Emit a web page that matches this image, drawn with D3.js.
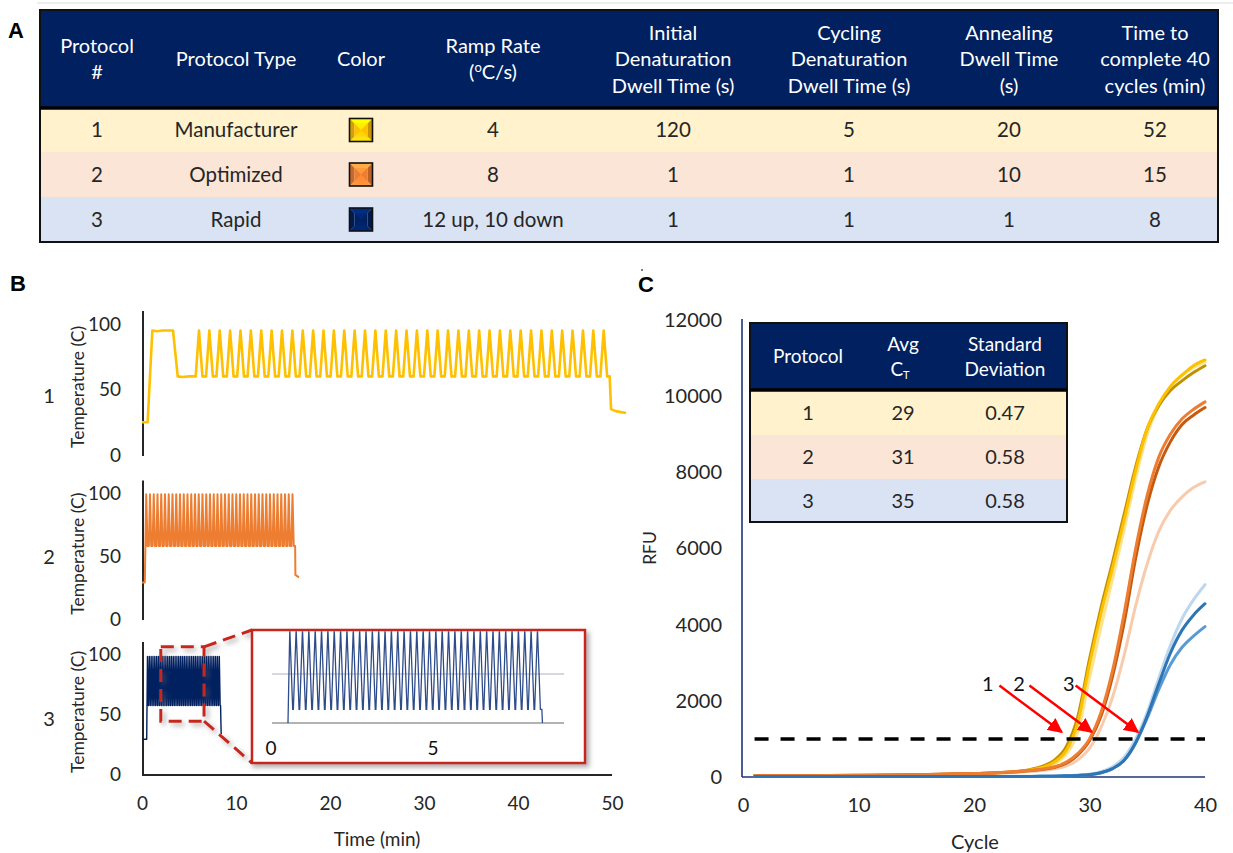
<!DOCTYPE html>
<html>
<head>
<meta charset="utf-8">
<script src="https://cdn.jsdelivr.net/npm/d3@7"></script>
<style>
  body { margin: 0; background: #fff; }
  svg { display: block; font-family: Lato, "Open Sans", sans-serif; }
</style>
</head>
<body>
<svg id="fig" width="1233" height="853"></svg>
<script>
// ---------- Panel A: protocol table ----------
const tableHeaders = [
  ["Protocol", "#"], ["Protocol Type"], ["Color"], ["Ramp Rate", "(\u00B0C/s)"],
  ["Initial", "Denaturation", "Dwell Time (s)"], ["Cycling", "Denaturation", "Dwell Time (s)"],
  ["Annealing", "Dwell Time", "(s)"], ["Time to", "complete 40", "cycles (min)"]
];
const protocolIds = ["1", "2", "3"];
const protocolTypes = ["Manufacturer", "Optimized", "Rapid"];
const rampRates = ["4", "8", "12 up, 10 down"];
const initialDwell = [120, 1, 1];
const cyclingDwell = [5, 1, 1];
const annealDwell = [20, 10, 1];
const totalMinutes = [52, 15, 8];
const protocolColors = ["#FFC000", "#ED7D31", "#002060"];
const rowFills = ["#FFF2CC", "#FBE5D6", "#DAE3F3"];

// ---------- Panel B: thermal traces (time in min, temperature in °C) ----------
const holdBefore = [
  [[0, 25], [0.6, 25], [1.1, 95], [1.6, 94.5], [2.2, 95], [3.3, 95], [3.8, 60], [4.3, 59.5], [5.0, 60], [5.71, 60]],
  [[0, 29], [0.3, 29]],
  [[0, 29], [0.5, 29]]
];
const cycleShape = [
  [[0, 60], [0.35, 95], [0.72, 60]],
  [[0, 99], [0.13, 58], [0.28, 58]],
  [[0, 98], [0.09, 57], [0.11, 57]]
];
const cycleStart = [5.71, 0.45, 0.58];
const cyclePeriod = [1.104, 0.399, 0.196];
const cycleCount = 40;
const holdAfter = [
  [[49.75, 60], [49.9, 35], [50.4, 33.5], [51.5, 32]],
  [[16.32, 35], [16.7, 33]],
  [[8.36, 57], [8.42, 34], [8.5, 34]]
];
const timeTicks = [0, 10, 20, 30, 40, 50];
const tempTicks = [0, 50, 100];
const insetTicks = [0, 5];
const insetGrid = [50, 75];

// ---------- Panel C: amplification curves ----------
const cycles = [1, 5, 10, 15, 20, 22, 24, 25, 26, 27, 28, 29, 30, 31, 32, 33, 34, 35, 36, 37, 38, 39, 40];
const rfuP1a = [30, 35, 40, 55, 90, 110, 155, 205, 290, 450, 800, 1600, 3100, 4450, 5650, 6900, 8150, 9150, 9750, 10150, 10400, 10620, 10800];
const rfuP1b = [30, 35, 40, 55, 85, 105, 145, 190, 260, 400, 700, 1450, 2950, 4300, 5500, 6750, 8050, 9150, 9800, 10250, 10550, 10800, 10950];
const rfuP1c = [30, 35, 40, 55, 80, 100, 135, 175, 235, 350, 600, 1200, 2600, 3950, 5200, 6500, 7850, 9000, 9750, 10250, 10550, 10750, 10900];
const rfuP2a = [30, 35, 45, 60, 90, 110, 150, 175, 210, 270, 390, 620, 1000, 1700, 2800, 4300, 6000, 7400, 8400, 9000, 9400, 9650, 9850];
const rfuP2b = [30, 35, 45, 60, 90, 110, 145, 170, 200, 255, 360, 580, 950, 1600, 2650, 4050, 5750, 7150, 8150, 8800, 9250, 9500, 9700];
const rfuP2c = [30, 35, 45, 60, 85, 100, 130, 150, 175, 215, 290, 450, 750, 1300, 2100, 3200, 4500, 5600, 6450, 7000, 7350, 7600, 7750];
const rfuP3a = [10, 10, 10, 10, 15, 15, 20, 20, 25, 30, 40, 55, 80, 140, 270, 520, 1000, 1700, 2600, 3450, 4150, 4650, 5050];
const rfuP3b = [10, 10, 10, 10, 12, 12, 15, 15, 18, 22, 30, 42, 60, 110, 220, 440, 900, 1600, 2450, 3250, 3850, 4250, 4550];
const rfuP3c = [10, 10, 10, 10, 12, 12, 15, 15, 18, 22, 30, 42, 60, 110, 220, 440, 900, 1550, 2300, 2950, 3400, 3700, 3950];
const curveSeries = [
  { rfu: rfuP1c, color: "#FFE38A" }, { rfu: rfuP1a, color: "#BF9000" }, { rfu: rfuP1b, color: "#FFC000" },
  { rfu: rfuP2c, color: "#F8CBAD" }, { rfu: rfuP2b, color: "#C55A11" }, { rfu: rfuP2a, color: "#ED7D31" },
  { rfu: rfuP3a, color: "#BDD7EE" }, { rfu: rfuP3c, color: "#5B9BD5" }, { rfu: rfuP3b, color: "#2E75B6" }
];
const threshold = 1000;
const rfuTicks = [0, 2000, 4000, 6000, 8000, 10000, 12000];
const cycleTicks = [0, 10, 20, 30, 40];
const ctHeaders = [["Protocol"], ["Avg", "C_T"], ["Standard", "Deviation"]];
const avgCt = [29, 31, 35];
const ctStdDev = ["0.47", "0.58", "0.58"];
// arrows: label position, tail and tip in (cycle, RFU)
const ctArrows = [
  { label: "1", at: [21.2, 2450], from: [22.2, 2400], to: [27.6, 1180] },
  { label: "2", at: [23.9, 2450], from: [24.8, 2400], to: [30.2, 1180] },
  { label: "3", at: [28.2, 2450], from: [28.8, 2400], to: [34.2, 1180] }
];

// ---------- drawing ----------
const svg = d3.select("#fig");
const defs = svg.append("defs");
defs.append("filter").attr("id", "shadow").attr("x", "-10%").attr("y", "-10%").attr("width", "130%").attr("height", "140%")
  .append("feDropShadow").attr("dx", 3).attr("dy", 3).attr("stdDeviation", 2.5)
  .attr("flood-color", "#666").attr("flood-opacity", 0.55);
defs.append("marker").attr("id", "redhead").attr("viewBox", "0 0 10 10").attr("refX", 9).attr("refY", 5)
  .attr("markerWidth", 6).attr("markerHeight", 6).attr("markerUnits", "strokeWidth").attr("orient", "auto")
  .append("path").attr("d", "M0,0 L10,5 L0,10 Z").attr("fill", "#FF0000");

const textCol = "#262626";

svg.append("line").attr("x1", 37).attr("x2", 1233).attr("y1", 3).attr("y2", 3).attr("stroke", "#d9d9d9");

function letter(t, x, y) {
  svg.append("text").attr("x", x).attr("y", y).text(t)
    .attr("font-family", "Arial, 'Liberation Sans', sans-serif").attr("font-weight", "bold")
    .attr("font-size", 22).attr("fill", "#000");
}
letter("A", 8, 38); letter("B", 10, 291); letter("C", 638, 292);
svg.append("circle").attr("cx", 642).attr("cy", 270).attr("r", 1).attr("fill", "#555");

// ---- Panel A ----
(function drawTableA() {
  const x0 = 40, x1 = 1218, yTop = 10, yHead = 108;
  const rowEdges = [108, 152, 197, 242];
  const colX = [97, 236, 361, 493, 673, 849, 1009, 1155];
  const g = svg.append("g");
  g.append("rect").attr("x", x0).attr("y", yTop).attr("width", x1 - x0).attr("height", yHead - yTop).attr("fill", "#002060");
  g.selectAll("rect.row").data(protocolIds).join("rect").attr("class", "row")
    .attr("x", x0).attr("width", x1 - x0)
    .attr("y", (d, i) => rowEdges[i]).attr("height", (d, i) => rowEdges[i + 1] - rowEdges[i])
    .attr("fill", (d, i) => rowFills[i]);

  const lineGap = 26.5, headMid = (yTop + yHead) / 2;
  tableHeaders.forEach((lines, c) => {
    const t = g.append("text").attr("text-anchor", "middle").attr("fill", "#fff").attr("font-size", 20);
    lines.forEach((ln, k) => {
      const y = headMid + (k - (lines.length - 1) / 2) * lineGap + 7;
      if (ln === "(\u00B0C/s)") {
        const ts = t.append("tspan").attr("x", colX[c]).attr("y", y);
        ts.append("tspan").text("(");
        ts.append("tspan").text("o").attr("font-size", 13).attr("dy", -7);
        ts.append("tspan").text("C/s)").attr("dy", 7);
      } else {
        t.append("tspan").attr("x", colX[c]).attr("y", y).text(ln);
      }
    });
  });

  const cells = protocolIds.map((id, i) => [id, protocolTypes[i], null, rampRates[i], initialDwell[i], cyclingDwell[i], annealDwell[i], totalMinutes[i]]);
  cells.forEach((row, i) => {
    const cy = (rowEdges[i] + rowEdges[i + 1]) / 2;
    row.forEach((v, c) => {
      if (v === null) return;
      g.append("text").attr("x", colX[c]).attr("y", cy + 7).attr("text-anchor", "middle")
        .attr("font-size", 20.5).attr("fill", textCol).text(v);
    });
    // bevelled colour swatch
    const s = 23, sx = colX[2] - s / 2, sy = cy - s / 2, inset = 5;
    const base = d3.color(protocolColors[i]);
    const pts = {
      tl: [sx, sy], tr: [sx + s, sy], br: [sx + s, sy + s], bl: [sx, sy + s],
      itl: [sx + inset, sy + inset], itr: [sx + s - inset, sy + inset], ibr: [sx + s - inset, sy + s - inset], ibl: [sx + inset, sy + s - inset]
    };
    const poly = (arr, fill) => g.append("polygon").attr("points", arr.map(p => p.join(",")).join(" ")).attr("fill", fill);
    poly([pts.tl, pts.tr, pts.itr, pts.itl], base.brighter(0.9));
    poly([pts.bl, pts.br, pts.ibr, pts.ibl], base.brighter(0.5));
    poly([pts.tl, pts.bl, pts.ibl, pts.itl], base.darker(0.5));
    poly([pts.tr, pts.br, pts.ibr, pts.itr], base.darker(0.7));
    poly([pts.itl, pts.itr, pts.ibr, pts.ibl], base);
    g.append("polygon").attr("points", [pts.itl, pts.itr, [sx + s / 2, sy + s / 2]].map(p => p.join(",")).join(" ")).attr("fill", base.brighter(0.6));
    g.append("polygon").attr("points", [pts.ibl, pts.ibr, [sx + s / 2, sy + s / 2]].map(p => p.join(",")).join(" ")).attr("fill", base.brighter(0.3));
    g.append("rect").attr("x", sx).attr("y", sy).attr("width", s).attr("height", s).attr("fill", "none").attr("stroke", "#111").attr("stroke-width", 1.6);
  });

  g.append("rect").attr("x", x0).attr("y", yTop).attr("width", x1 - x0).attr("height", rowEdges[3] - yTop)
    .attr("fill", "none").attr("stroke", "#111").attr("stroke-width", 2);
  g.append("line").attr("x1", x0).attr("x2", x1).attr("y1", yHead).attr("y2", yHead).attr("stroke", "#000").attr("stroke-width", 3.5);
})();

// ---- Panel B ----
function buildTrace(i) {
  const pts = holdBefore[i].slice();
  for (let k = 0; k < cycleCount; k++) {
    const t0 = cycleStart[i] + k * cyclePeriod[i];
    cycleShape[i].forEach(([dt, temp]) => pts.push([t0 + dt, temp]));
  }
  return pts.concat(holdAfter[i]);
}

(function drawPanelB() {
  const g = svg.append("g");
  const xB = d3.scaleLinear().domain([0, 50]).range([142, 612]);
  const yScales = [
    d3.scaleLinear().domain([0, 100]).range([455, 324]),
    d3.scaleLinear().domain([0, 100]).range([619, 493]),
    d3.scaleLinear().domain([0, 100]).range([774, 654])
  ];
  const strokeW = [2.6, 2, 1.4];
  const rowLabelY = [403, 564, 726];

  yScales.forEach((y, i) => {
    g.append("line").attr("x1", 143).attr("x2", 143).attr("y1", y(110)).attr("y2", y(0) + 1)
      .attr("stroke", textCol).attr("stroke-width", 2);
    const ax = g.append("g").attr("transform", "translate(121,0)")
      .call(d3.axisLeft(y).tickValues(tempTicks).tickSize(0).tickPadding(0));
    ax.select(".domain").remove();
    ax.selectAll("text").attr("font-family", "Lato, 'Open Sans', sans-serif").attr("font-size", 19).attr("fill", textCol).attr("text-anchor", "end").attr("x", 0);
    g.append("text").attr("transform", `translate(84,${(y(110) + y(0)) / 2 + 4}) rotate(-90)`)
      .attr("text-anchor", "middle").attr("font-size", 17.5).attr("fill", textCol).text("Temperature (C)");
    g.append("text").attr("x", 49).attr("y", rowLabelY[i]).attr("text-anchor", "middle")
      .attr("font-size", 20).attr("fill", textCol).text(protocolIds[i]);

    const line = d3.line().x(d => xB(d[0])).y(d => y(d[1]));
    g.append("path").datum(buildTrace(i)).attr("d", line).attr("fill", "none")
      .attr("stroke", protocolColors[i]).attr("stroke-width", strokeW[i]).attr("stroke-linejoin", "round");
  });

  // time axis (bottom plot)
  g.append("line").attr("x1", 142).attr("x2", xB(50)).attr("y1", 775).attr("y2", 775).attr("stroke", textCol).attr("stroke-width", 2);
  const axB = g.append("g").attr("transform", "translate(0,810)")
    .call(d3.axisBottom(xB).tickValues(timeTicks).tickSize(0).tickPadding(0));
  axB.select(".domain").remove();
  axB.selectAll("text").attr("font-family", "Lato, 'Open Sans', sans-serif").attr("font-size", 19).attr("fill", textCol).attr("dy", 0);
  g.append("text").attr("x", 377).attr("y", 846).attr("text-anchor", "middle").attr("font-size", 19).attr("fill", textCol).text("Time (min)");

  // zoom region in plot 3 and connectors to inset
  const y3 = yScales[2];
  const red = "#C8281E";
  const zx0 = xB(2.0), zx1 = xB(6.6), zy0 = y3(106), zy1 = y3(44);
  const bx0 = 252, bx1 = 585, by0 = 630, by1 = 763;
  const dash = g.append("g").attr("fill", "none").attr("stroke", red).attr("stroke-width", 3)
    .attr("stroke-dasharray", "13,7").attr("filter", "url(#shadow)");
  dash.append("rect").attr("x", zx0).attr("y", zy0).attr("width", zx1 - zx0).attr("height", zy1 - zy0);
  dash.append("line").attr("x1", zx1).attr("y1", zy0).attr("x2", bx0).attr("y2", by0);
  dash.append("line").attr("x1", zx1).attr("y1", zy1).attr("x2", bx0).attr("y2", by1);

  // inset enlargement of protocol 3
  g.append("rect").attr("x", bx0).attr("y", by0).attr("width", bx1 - bx0).attr("height", by1 - by0)
    .attr("fill", "#fff").attr("stroke", red).attr("stroke-width", 2.5).attr("filter", "url(#shadow)");
  const xI = d3.scaleLinear().domain([0, 5]).range([271, 433]);
  const yI = d3.scaleLinear().domain([50, 100]).range([723, 625]);
  insetGrid.forEach((v, k) => {
    g.append("line").attr("x1", 272).attr("x2", 564).attr("y1", yI(v)).attr("y2", yI(v))
      .attr("stroke", k === 0 ? "#9a9a9a" : "#c8cbd6").attr("stroke-width", 1.3);
  });
  defs.append("clipPath").attr("id", "insetClip").append("rect")
    .attr("x", bx0 + 1.2).attr("y", by0 + 1.2).attr("width", bx1 - bx0 - 2.4).attr("height", yI(50) - by0 - 1.2);
  g.append("path").datum(buildTrace(2)).attr("clip-path", "url(#insetClip)")
    .attr("d", d3.line().x(d => xI(d[0])).y(d => yI(d[1])))
    .attr("fill", "none").attr("stroke", "#2F4C8A").attr("stroke-width", 1.3);
  insetTicks.forEach(v => {
    g.append("text").attr("x", xI(v)).attr("y", 755).attr("text-anchor", "middle")
      .attr("font-size", 19).attr("fill", "#111").text(v);
  });
})();

// ---- Panel C ----
(function drawPanelC() {
  const g = svg.append("g");
  const xC = d3.scaleLinear().domain([0, 40]).range([743, 1205]);
  const yC = d3.scaleLinear().domain([0, 12000]).range([777, 320]);
  const navy = "#1F3477";

  const ay = g.append("g").attr("transform", "translate(722,0)")
    .call(d3.axisLeft(yC).tickValues(rfuTicks).tickSize(0).tickPadding(0).tickFormat(d3.format("d")));
  ay.select(".domain").remove();
  ay.selectAll("text").attr("font-family", "Lato, 'Open Sans', sans-serif").attr("font-size", 20).attr("fill", textCol).attr("x", 0).attr("text-anchor", "end");
  const ax = g.append("g").attr("transform", "translate(0,812)")
    .call(d3.axisBottom(xC).tickValues(cycleTicks).tickSize(0).tickPadding(0));
  ax.select(".domain").remove();
  ax.selectAll("text").attr("font-family", "Lato, 'Open Sans', sans-serif").attr("font-size", 20).attr("fill", textCol).attr("dy", 0);
  g.append("text").attr("x", 975).attr("y", 849).attr("text-anchor", "middle").attr("font-size", 20).attr("fill", textCol).text("Cycle");
  g.append("text").attr("transform", "translate(656,548) rotate(-90)").attr("text-anchor", "middle")
    .attr("font-size", 17.5).attr("fill", textCol).text("RFU");

  g.append("line").attr("x1", 742).attr("x2", 742).attr("y1", 319).attr("y2", yC(0)).attr("stroke", navy).attr("stroke-width", 1.6);
  g.append("line").attr("x1", 742).attr("x2", xC(40)).attr("y1", yC(0)).attr("y2", yC(0)).attr("stroke", navy).attr("stroke-width", 1.6);

  const line = d3.line().x((d, i) => xC(cycles[i])).y(d => yC(d)).curve(d3.curveMonotoneX);
  curveSeries.forEach(s => {
    g.append("path").datum(s.rfu).attr("d", line).attr("fill", "none")
      .attr("stroke", s.color).attr("stroke-width", 3).attr("stroke-linecap", "round");
  });

  g.append("line").attr("x1", xC(1)).attr("x2", xC(40)).attr("y1", yC(threshold)).attr("y2", yC(threshold))
    .attr("stroke", "#000").attr("stroke-width", 3.5).attr("stroke-dasharray", "14,12");

  ctArrows.forEach(a => {
    g.append("line").attr("x1", xC(a.from[0])).attr("y1", yC(a.from[1])).attr("x2", xC(a.to[0])).attr("y2", yC(a.to[1]))
      .attr("stroke", "#FF0000").attr("stroke-width", 2.5).attr("marker-end", "url(#redhead)");
    g.append("text").attr("x", xC(a.at[0])).attr("y", yC(a.at[1]) + 7).attr("text-anchor", "middle")
      .attr("font-size", 20).attr("fill", "#111").text(a.label);
  });

  // inset summary table
  const x0 = 750, x1 = 1067, yTop = 323, yHead = 390;
  const rowEdges = [390, 435, 479, 522];
  const colX = [808, 903, 1005];
  g.append("rect").attr("x", x0).attr("y", yTop).attr("width", x1 - x0).attr("height", yHead - yTop).attr("fill", "#002060");
  avgCt.forEach((v, i) => {
    g.append("rect").attr("x", x0).attr("width", x1 - x0).attr("y", rowEdges[i]).attr("height", rowEdges[i + 1] - rowEdges[i]).attr("fill", rowFills[i]);
    const cy = (rowEdges[i] + rowEdges[i + 1]) / 2 + 7;
    [protocolIds[i], v, ctStdDev[i]].forEach((val, c) => {
      g.append("text").attr("x", colX[c]).attr("y", cy).attr("text-anchor", "middle").attr("font-size", 20).attr("fill", textCol).text(val);
    });
  });
  const headMid = (yTop + yHead) / 2;
  ctHeaders.forEach((lines, c) => {
    const t = g.append("text").attr("text-anchor", "middle").attr("fill", "#fff").attr("font-size", 19);
    lines.forEach((ln, k) => {
      const y = headMid + (k - (lines.length - 1) / 2) * 25 + 6.5;
      if (ln === "C_T") {
        const ts = t.append("tspan").attr("x", colX[c] - 3).attr("y", y);
        ts.append("tspan").text("C");
        ts.append("tspan").text("T").attr("font-size", 11).attr("dy", 3);
      } else {
        t.append("tspan").attr("x", colX[c]).attr("y", y).text(ln);
      }
    });
  });
  g.append("rect").attr("x", x0).attr("y", yTop).attr("width", x1 - x0).attr("height", rowEdges[3] - yTop)
    .attr("fill", "none").attr("stroke", "#111").attr("stroke-width", 2);
  g.append("line").attr("x1", x0).attr("x2", x1).attr("y1", yHead).attr("y2", yHead).attr("stroke", "#000").attr("stroke-width", 3.5);
})();
</script>
</body>
</html>
